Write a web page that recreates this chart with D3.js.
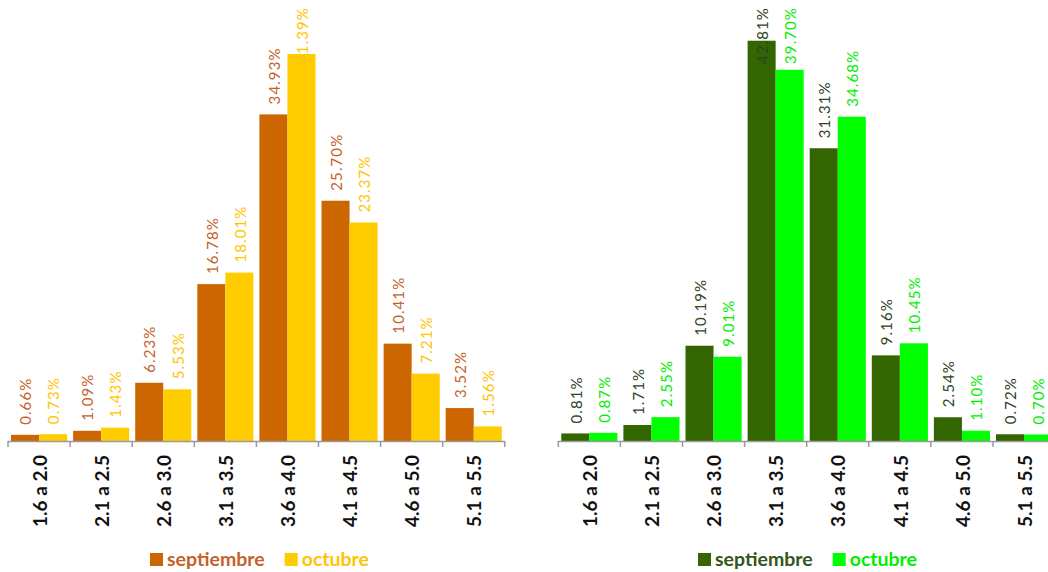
<!DOCTYPE html>
<html>
<head>
<meta charset="utf-8">
<script src="https://cdnjs.cloudflare.com/ajax/libs/d3/7.8.4/d3.min.js"></script>
<style>
  html, body { margin: 0; padding: 0; background: #fff; }
  svg { display: block; font-family: Lato, "Open Sans", sans-serif; }
</style>
</head>
<body>
<div id="chart"></div>
<script>
// ranges of the estimate (same for both panels)
const categories = ["1.6 a 2.0", "2.1 a 2.5", "2.6 a 3.0", "3.1 a 3.5", "3.6 a 4.0", "4.1 a 4.5", "4.6 a 5.0", "5.1 a 5.5"];
const seriesNames = ["septiembre", "octubre"];

// left panel (%)
const leftSept = [0.66, 1.09, 6.23, 16.78, 34.93, 25.70, 10.41, 3.52];
const leftOct  = [0.73, 1.43, 5.53, 18.01, 41.39, 23.37, 7.21, 1.56];

// right panel (%)
const rightSept = [0.81, 1.71, 10.19, 42.81, 31.31, 9.16, 2.54, 0.72];
const rightOct  = [0.87, 2.55, 9.01, 39.70, 34.68, 10.45, 1.10, 0.70];

const W = 1048, H = 572;
const baseY = 441;

const svg = d3.select("#chart").append("svg")
  .attr("width", W).attr("height", H);

// shared y scale: about 9.35 px per percent
const y = d3.scaleLinear().domain([0, 45]).range([baseY, baseY - 45 * 9.35]);

function drawPanel(opts) {
  const g = svg.append("g");

  const x = d3.scaleBand()
    .domain(categories)
    .range([opts.x0, opts.x0 + categories.length * 62.1])
    .padding(0);

  const xs = d3.scaleBand()
    .domain(seriesNames)
    .range([3, x.bandwidth() - 3])
    .padding(0);

  const rows = categories.map((c, i) => ({ cat: c, vals: [opts.sept[i], opts.oct[i]] }));

  const grp = g.selectAll("g.cat")
    .data(rows)
    .join("g")
    .attr("class", "cat")
    .attr("transform", d => `translate(${x(d.cat)},0)`);

  const cells = d => seriesNames.map((s, j) => ({ s: s, v: d.vals[j] }));

  grp.selectAll("rect")
    .data(cells)
    .join("rect")
    .attr("x", d => xs(d.s))
    .attr("y", d => y(d.v))
    .attr("width", xs.bandwidth())
    .attr("height", d => baseY - y(d.v))
    .attr("fill", d => opts.colors[d.s]);

  // value labels, rotated; pushed down when they would leave the top
  grp.selectAll("text.val")
    .data(cells)
    .join("text")
    .attr("class", "val")
    .attr("dy", "0.35em")
    .attr("text-anchor", "start")
    .style("font-size", "15px")
    .style("letter-spacing", "1.1px")
    .attr("fill", d => opts.labelColors[d.s])
    .text(d => d.v.toFixed(2) + "%")
    .each(function(d) {
      const len = this.getComputedTextLength();
      let yy = y(d.v) - 10;
      if (yy - len < 7) yy = 7 + len;
      d3.select(this).attr("transform",
        `translate(${xs(d.s) + xs.bandwidth() / 2 + 1},${yy}) rotate(-90)`);
    });

  // axis line
  const edges = categories.map(c => x(c)).concat([x.range()[1]]);
  g.append("line")
    .attr("x1", x.range()[0]).attr("x2", x.range()[1])
    .attr("y1", baseY + 0.5).attr("y2", baseY + 0.5)
    .attr("stroke", "#9a9a9a").attr("stroke-width", 1.5);

  g.selectAll("line.tick")
    .data(edges)
    .join("line")
    .attr("class", "tick")
    .attr("x1", d => d).attr("x2", d => d)
    .attr("y1", baseY).attr("y2", baseY + 6)
    .attr("stroke", "#9a9a9a").attr("stroke-width", 1.5);

  // category labels
  g.selectAll("text.cat")
    .data(categories)
    .join("text")
    .attr("class", "cat")
    .attr("transform", d => `translate(${x(d) + x.bandwidth() / 2 + 1},455) rotate(-90)`)
    .attr("dy", "0.35em")
    .attr("text-anchor", "end")
    .style("font-size", "19px")
    .style("font-weight", "bold")
    .attr("fill", "#111")
    .text(d => d);

  // legend
  const lg = g.append("g").attr("transform", `translate(${opts.legendX},553)`);
  let lx = 0;
  seriesNames.forEach((s, j) => {
    lg.append("rect")
      .attr("x", lx).attr("y", 0)
      .attr("width", 13).attr("height", 13)
      .attr("fill", opts.colors[s]);
    const t = lg.append("text")
      .attr("x", lx + 17).attr("y", 13)
      .style("font-size", "19.5px")
      .style("font-weight", "bold")
      .attr("fill", opts.legendColors[s])
      .text(s);
    lx += 17 + t.node().getComputedTextLength() + 20;
  });
}

drawPanel({
  x0: 8,
  sept: leftSept, oct: leftOct,
  colors: { septiembre: "#cc6600", octubre: "#ffcc00" },
  labelColors: { septiembre: "#c4622a", octubre: "#ffc400" },
  legendColors: { septiembre: "#c4622a", octubre: "#ffc400" },
  legendX: 150
});

drawPanel({
  x0: 558.3,
  sept: rightSept, oct: rightOct,
  colors: { septiembre: "#336600", octubre: "#00ff00" },
  labelColors: { septiembre: "#2e4422", octubre: "#00ee00" },
  legendColors: { septiembre: "#33551a", octubre: "#00ee00" },
  legendX: 698
});
</script>
</body>
</html>
